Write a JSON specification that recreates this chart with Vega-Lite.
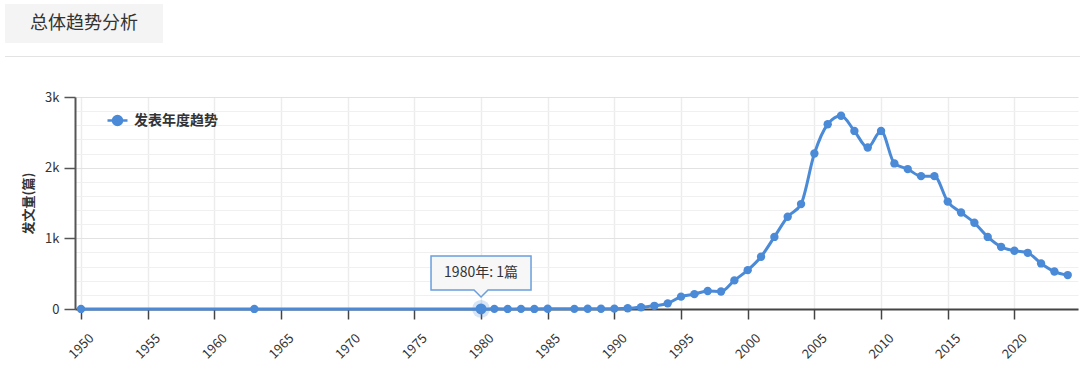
{
  "$schema": "https://vega.github.io/schema/vega-lite/v6.json",
  "padding": {"left": 5, "top": 4, "right": 0, "bottom": 0},
  "config": {
    "font": "Noto Sans CJK SC",
    "view": {"stroke": null},
    "concat": {"spacing": 13},
    "axis": {"labelFont": "Noto Sans CJK SC", "titleFont": "Noto Sans CJK SC", "labelColor": "#333", "labelFontSize": 13},
    "legend": {"labelFont": "Noto Sans CJK SC"}
  },
  "datasets": {
    "trend": [
      {"year": 1950, "count": 1},
      {"year": 1963, "count": 1},
      {"year": 1980, "count": 1},
      {"year": 1981, "count": 2},
      {"year": 1982, "count": 1},
      {"year": 1983, "count": 2},
      {"year": 1984, "count": 1},
      {"year": 1985, "count": 3},
      {"year": 1987, "count": 2},
      {"year": 1988, "count": 3},
      {"year": 1989, "count": 4},
      {"year": 1990, "count": 5},
      {"year": 1991, "count": 10},
      {"year": 1992, "count": 25},
      {"year": 1993, "count": 45},
      {"year": 1994, "count": 80},
      {"year": 1995, "count": 175},
      {"year": 1996, "count": 210},
      {"year": 1997, "count": 255},
      {"year": 1998, "count": 248},
      {"year": 1999, "count": 405},
      {"year": 2000, "count": 550},
      {"year": 2001, "count": 740},
      {"year": 2002, "count": 1020},
      {"year": 2003, "count": 1305},
      {"year": 2004, "count": 1485},
      {"year": 2005, "count": 2200},
      {"year": 2006, "count": 2615},
      {"year": 2007, "count": 2735},
      {"year": 2008, "count": 2520},
      {"year": 2009, "count": 2285},
      {"year": 2010, "count": 2520},
      {"year": 2011, "count": 2060},
      {"year": 2012, "count": 1980},
      {"year": 2013, "count": 1880},
      {"year": 2014, "count": 1880},
      {"year": 2015, "count": 1520},
      {"year": 2016, "count": 1365},
      {"year": 2017, "count": 1220},
      {"year": 2018, "count": 1020},
      {"year": 2019, "count": 880},
      {"year": 2020, "count": 825},
      {"year": 2021, "count": 795},
      {"year": 2022, "count": 645},
      {"year": 2023, "count": 530},
      {"year": 2024, "count": 480}
    ],
    "hover": [{"year": 1980, "count": 1, "label": "1980年: 1篇"}]
  },
  "spacing": 34,
  "vconcat": [
    {
      "vconcat": [
        {
          "width": 158,
          "height": 39,
          "view": {"fill": "#f4f4f4", "stroke": null},
          "data": {"values": [{"t": "总体趋势分析"}]},
          "mark": {"type": "text", "fontSize": 18, "color": "#333", "font": "Noto Sans CJK SC"},
          "encoding": {"text": {"field": "t"}}
        },
        {
          "width": 1075,
          "height": 1,
          "view": {"fill": "#e3e3e3", "stroke": null},
          "data": {"values": [{"t": ""}]},
          "mark": {"type": "point", "size": 0, "opacity": 0}
        }
      ]
    },
    {
      "spacing": 0,
      "hconcat": [
        {
          "width": 17,
          "height": 10,
          "data": {"values": [{"t": ""}]},
          "mark": {"type": "point", "size": 0, "opacity": 0}
        },
        {
          "width": 1003,
          "height": 212,
          "encoding": {
            "x": {
              "field": "year",
              "type": "quantitative",
              "scale": {"domain": [1949.55, 2024.77], "nice": false, "zero": false},
              "axis": {
                "values": [1950, 1955, 1960, 1965, 1970, 1975, 1980, 1985, 1990, 1995, 2000, 2005, 2010, 2015, 2020],
                "format": "d",
                "title": null,
                "labelAngle": -45,
                "labelAlign": "center",
                "labelBaseline": "middle",
                "labelPadding": 27,
                "labelOverlap": false,
                "labelFontSize": 13,
                "tickSize": 10,
                "tickColor": "#444",
                "tickWidth": 1.5,
                "domainColor": "#444",
                "domainWidth": 2,
                "grid": true,
                "gridColor": "#ececec",
                "gridWidth": 1.5,
                "zindex": 0
              }
            },
            "y": {
              "field": "count",
              "type": "quantitative",
              "scale": {"domain": [0, 3000], "nice": false},
              "axis": {
                "values": [0, 200, 400, 600, 800, 1000, 1200, 1400, 1600, 1800, 2000, 2200, 2400, 2600, 2800, 3000],
                "labelExpr": "datum.value === 0 ? '0' : (datum.value % 1000 === 0 ? (datum.value / 1000) + 'k' : '')",
                "title": "发文量(篇)",
                "titleFontSize": 13,
                "titleFontWeight": "bold",
                "titleColor": "#333",
                "titlePadding": 9,
                "labelPadding": 5,
                "labelFontSize": 13,
                "domainColor": "#555",
                "domainWidth": 2,
                "tickColor": "#555",
                "tickWidth": 1.5,
                "tickSize": 11,
                "tickOpacity": {"condition": {"test": "datum.value % 1000 === 0", "value": 1}, "value": 0},
                "grid": true,
                "gridColor": {"condition": {"test": "datum.value % 1000 === 0", "value": "#e2e2e2"}, "value": "#f0f0f0"},
                "gridWidth": 1,
                "zindex": 0
              }
            }
          },
          "layer": [
            {
              "data": {"name": "trend"},
              "mark": {"type": "line", "interpolate": "monotone", "strokeWidth": 3, "point": {"filled": true, "size": 70}},
              "encoding": {
                "color": {
                  "datum": "发表年度趋势",
                  "type": "nominal",
                  "scale": {"range": ["#4a8ad7"]},
                  "legend": {
                    "orient": "none",
                    "legendX": 101,
                    "legendY": 105,
                    "title": null,
                    "padding": 0,
                    "symbolType": "M-1,0L1,0M-0.45,0A0.45,0.45,0,1,1,0.45,0A0.45,0.45,0,1,1,-0.45,0Z",
                    "symbolSize": 400,
                    "symbolStrokeWidth": 2.5,
                    "symbolFillColor": "#4a8ad7",
                    "symbolStrokeColor": "#4a8ad7",
                    "labelFontSize": 14,
                    "labelFontWeight": "bold",
                    "labelColor": "#333",
                    "labelOffset": 5
                  }
                }
              }
            },
            {
              "data": {"name": "hover"},
              "mark": {"type": "point", "filled": true, "size": 320, "color": "#4a8ad7", "opacity": 0.22}
            },
            {
              "data": {"name": "hover"},
              "mark": {"type": "point", "filled": true, "size": 120, "color": "#4a8ad7", "opacity": 1}
            },
            {
              "data": {"name": "hover"},
              "mark": {
                "type": "point",
                "shape": "M-1,-1.06L1,-1.06L1,-0.38L0.14,-0.38L0,-0.24L-0.14,-0.38L-1,-0.38Z",
                "size": 10000,
                "filled": true,
                "fill": "#f7f7f7",
                "stroke": "#6a9fdc",
                "strokeWidth": 1.5,
                "opacity": 1
              }
            },
            {
              "data": {"name": "hover"},
              "mark": {"type": "text", "dy": -36, "fontSize": 14, "color": "#333", "baseline": "middle", "align": "center"},
              "encoding": {"text": {"field": "label"}}
            }
          ]
        }
      ]
    }
  ]
}
